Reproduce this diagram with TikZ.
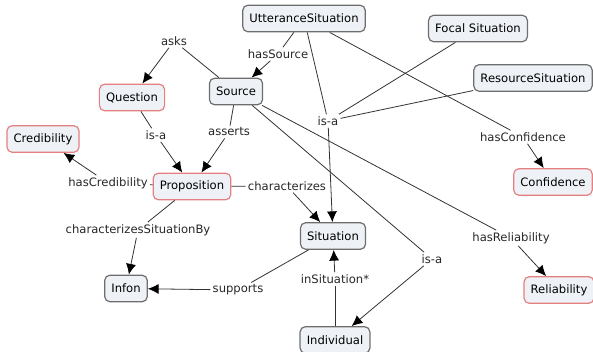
\documentclass[tikz,border=0pt]{standalone}
\usepackage{fontspec}
\setmainfont{DejaVu Sans}
\usetikzlibrary{arrows.meta}

\definecolor{conceptfill}{HTML}{EEF2F7}
\definecolor{conceptgray}{HTML}{6E6E6E}
\definecolor{conceptred}{HTML}{E58080}
\definecolor{linkgray}{HTML}{333333}

\begin{document}
\begin{tikzpicture}[x=0.75pt, y=-0.75pt, >={Latex[length=8pt,width=7.5pt,color=black]},
  every node/.style={font=\fontsize{8.7}{10}\selectfont},
  concept/.style={draw=conceptgray, fill=conceptfill, rounded corners=4pt,
    line width=0.9pt, minimum height=20pt, inner xsep=5pt},
  keyconcept/.style={concept, draw=conceptred},
  link/.style={inner sep=1.5pt, text=black!85},
  edge/.style={draw=linkgray, line width=0.6pt}]

  % --- frame ---
  \useasboundingbox (0,0) rectangle (593,352);

  % 1. concepts
  \node[concept] (utsit) at (304,18.5) {UtteranceSituation};
  \node[concept] (focal) at (478,28.5) {Focal Situation};
  \node[concept] (ressit) at (533,78) {ResourceSituation};
  \node[keyconcept] (question) at (132,97.5) {Question};
  \node[concept] (source) at (236,91.5) {Source};
  \node[keyconcept] (cred) at (43,139) {Credibility};
  \node[keyconcept] (prop) at (192,186.5) {Proposition};
  \node[keyconcept] (conf) at (553,182) {Confidence};
  \node[concept] (sit) at (333,236) {Situation};
  \node[concept] (infon) at (126,288.5) {Infon};
  \node[keyconcept] (reliab) at (559,290) {Reliability};
  \node[concept] (indiv) at (335,340) {Individual};

  % 2. linking phrases
  \node[link] (asks) at (174,41) {asks};
  \node[link] (hassrc) at (278,54) {hasSource};
  \node[link] (isatop) at (328,121) {is-a};
  \node[link] (isaq) at (156,135) {is-a};
  \node[link] (asserts) at (229,132) {asserts};
  \node[link] (hascred) at (108,183) {hasCredibility};
  \node[link] (charz) at (287,186) {characterizes};
  \node[link] (hasconf) at (523,137) {hasConfidence};
  \node[link] (csb) at (138,230) {characterizesSituationBy};
  \node[link] (supports) at (238,290) {supports};
  \node[link] (insit) at (335,279) {inSituation*};
  \node[link] (isaind) at (432,259) {is-a};
  \node[link] (hasrel) at (511,238) {hasReliability};

  % 3. connectors
  \draw[edge] (source) -- (asks);
  \draw[edge, ->] (asks) -- (question);
  \draw[edge] (utsit) -- (hassrc);
  \draw[edge, ->] (hassrc) -- (source);
  % subclasses of Situation
  \draw[edge] (utsit) -- (isatop);
  \draw[edge] (focal) -- (isatop);
  \draw[edge] (ressit) -- (isatop);
  \draw[edge, ->] (isatop) -- (sit);
  \draw[edge] (utsit) -- (hasconf);
  \draw[edge, ->] (hasconf) -- (conf);
  \draw[edge] (question) -- (isaq);
  \draw[edge, ->] (isaq) -- (prop);
  \draw[edge] (source) -- (asserts);
  \draw[edge, ->] (asserts) -- (prop);
  \draw[edge] (prop) -- (hascred);
  \draw[edge, ->] (hascred) -- (cred);
  \draw[edge] (prop) -- (charz);
  \draw[edge, ->] (charz) -- (sit);
  \draw[edge] (prop) -- (csb);
  \draw[edge, ->] (csb) -- (infon);
  \draw[edge] (sit) -- (supports);
  \draw[edge, ->] (supports) -- (infon);
  \draw[edge] (indiv) -- (insit);
  \draw[edge, ->] (insit) -- (sit);
  \draw[edge] (source) -- (isaind);
  \draw[edge, ->] (isaind) -- (indiv);
  \draw[edge] (source) -- (hasrel);
  \draw[edge, ->] (hasrel) -- (reliab);

\end{tikzpicture}
\end{document}
